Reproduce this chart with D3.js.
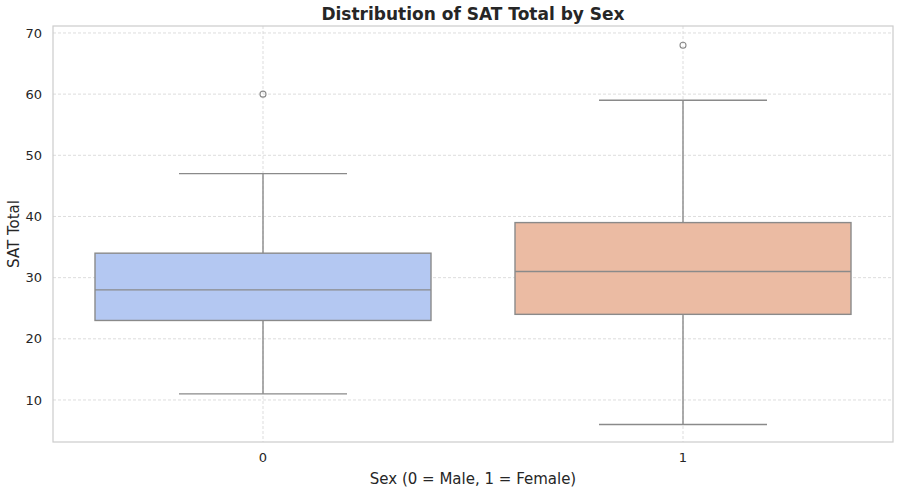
<!DOCTYPE html>
<html>
<head>
<meta charset="utf-8">
<script src="https://cdn.jsdelivr.net/npm/d3@7"></script>
<style>
  body { margin: 0; background: #fff; }
  svg { display: block; font-family: "DejaVu Sans", sans-serif; }
</style>
</head>
<body>
<div id="chart"></div>
<script>
// values
const categories = ["0", "1"];
const q1 = [23, 24];
const medians = [28, 31];
const q3 = [34, 39];
const whiskerLow = [11, 6];
const whiskerHigh = [47, 59];
const outliers = [[60], [68]];
const fills = ["#b4c8f2", "#ebbba3"];
const yTicks = [10, 20, 30, 40, 50, 60, 70];

const W = 900, H = 494;
const margin = { top: 26, right: 7, bottom: 52, left: 53 };
const innerW = W - margin.left - margin.right;
const innerH = H - margin.top - margin.bottom;
const lineColor = "#8a8a8a";

const svg = d3.select("#chart").append("svg")
  .attr("width", W)
  .attr("height", H);

const g = svg.append("g")
  .attr("transform", `translate(${margin.left},${margin.top})`);

const x = d3.scaleBand().domain(categories).range([0, innerW]).padding(0);
const y = d3.scaleLinear().domain([3.13, 71.14]).range([innerH, 0]);

// grid
g.append("g").selectAll("line.h")
  .data(yTicks)
  .join("line")
  .attr("x1", 0).attr("x2", innerW)
  .attr("y1", d => y(d)).attr("y2", d => y(d))
  .attr("stroke", "#d4d4d4").attr("stroke-width", 0.8)
  .attr("stroke-dasharray", "3,2");

g.append("g").selectAll("line.v")
  .data(categories)
  .join("line")
  .attr("x1", d => x(d) + x.bandwidth() / 2).attr("x2", d => x(d) + x.bandwidth() / 2)
  .attr("y1", 0).attr("y2", innerH)
  .attr("stroke", "#d4d4d4").attr("stroke-width", 0.8)
  .attr("stroke-dasharray", "3,2");

// boxes
const boxW = x.bandwidth() * 0.8;
const capW = boxW / 2;
const boxes = g.append("g").selectAll("g.box")
  .data(categories.map((c, i) => ({ c, i })))
  .join("g")
  .attr("transform", d => `translate(${x(d.c) + x.bandwidth() / 2},0)`);

boxes.append("line")
  .attr("x1", 0).attr("x2", 0)
  .attr("y1", d => y(whiskerHigh[d.i])).attr("y2", d => y(q3[d.i]))
  .attr("stroke", lineColor).attr("stroke-width", 1.4);
boxes.append("line")
  .attr("x1", 0).attr("x2", 0)
  .attr("y1", d => y(q1[d.i])).attr("y2", d => y(whiskerLow[d.i]))
  .attr("stroke", lineColor).attr("stroke-width", 1.4);
boxes.selectAll("line.cap")
  .data(d => [whiskerLow[d.i], whiskerHigh[d.i]])
  .join("line")
  .attr("x1", -capW / 2).attr("x2", capW / 2)
  .attr("y1", d => y(d)).attr("y2", d => y(d))
  .attr("stroke", lineColor).attr("stroke-width", 1.4);
boxes.append("rect")
  .attr("x", -boxW / 2)
  .attr("width", boxW)
  .attr("y", d => y(q3[d.i]))
  .attr("height", d => y(q1[d.i]) - y(q3[d.i]))
  .attr("fill", d => fills[d.i])
  .attr("stroke", lineColor).attr("stroke-width", 1.4);
boxes.append("line")
  .attr("x1", -boxW / 2).attr("x2", boxW / 2)
  .attr("y1", d => y(medians[d.i])).attr("y2", d => y(medians[d.i]))
  .attr("stroke", lineColor).attr("stroke-width", 1.4);
boxes.selectAll("circle")
  .data(d => outliers[d.i])
  .join("circle")
  .attr("cx", 0).attr("cy", d => y(d))
  .attr("r", 3)
  .attr("fill", "none")
  .attr("stroke", lineColor).attr("stroke-width", 1.1);

// frame
g.append("rect")
  .attr("width", innerW).attr("height", innerH)
  .attr("fill", "none").attr("stroke", "#cccccc").attr("stroke-width", 1.2);

// axes
const yAxis = g.append("g")
  .call(d3.axisLeft(y).tickValues(yTicks).tickSize(0).tickPadding(11));
const xAxis = g.append("g")
  .attr("transform", `translate(0,${innerH})`)
  .call(d3.axisBottom(x).tickSize(0).tickPadding(11));
[yAxis, xAxis].forEach(a => {
  a.select(".domain").remove();
  a.selectAll("text")
    .attr("font-family", "DejaVu Sans, sans-serif")
    .attr("font-size", 13)
    .attr("fill", "#262626");
});

// labels
svg.append("text")
  .attr("x", margin.left + innerW / 2).attr("y", 20)
  .attr("text-anchor", "middle")
  .attr("font-size", 17).attr("font-weight", "bold")
  .attr("fill", "#262626")
  .text("Distribution of SAT Total by Sex");

svg.append("text")
  .attr("x", margin.left + innerW / 2).attr("y", 484)
  .attr("text-anchor", "middle")
  .attr("font-size", 15).attr("fill", "#262626")
  .text("Sex (0 = Male, 1 = Female)");

svg.append("text")
  .attr("transform", `translate(19,${margin.top + innerH / 2}) rotate(-90)`)
  .attr("text-anchor", "middle")
  .attr("font-size", 15).attr("fill", "#262626")
  .text("SAT Total");
</script>
</body>
</html>
